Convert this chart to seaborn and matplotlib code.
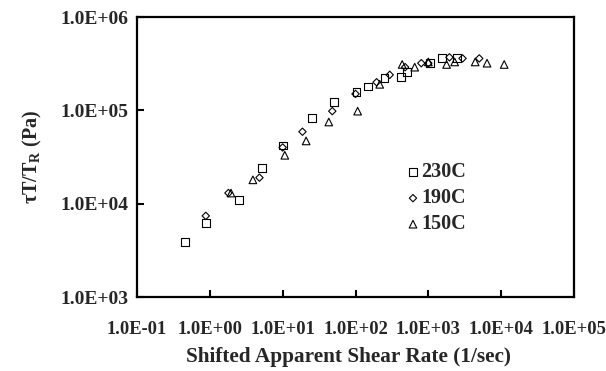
import matplotlib
matplotlib.use("Agg")
import matplotlib.pyplot as plt
import matplotlib.ticker as mticker
import seaborn as sns
import pandas as pd

# ---- data ----
x_230 = [0.455, 0.88, 2.5, 5.2, 10, 25, 51, 103, 150, 250, 420, 515, 1050, 1550, 2500]
y_230 = [3.9e3, 6.2e3, 1.1e4, 2.4e4, 4.2e4, 8.3e4, 1.23e5, 1.58e5, 1.8e5, 2.2e5, 2.3e5, 2.6e5, 3.2e5, 3.6e5, 3.6e5]

x_190 = [0.88, 1.8, 4.8, 10, 18.7, 48, 100, 195, 295, 480, 800, 1000, 1950, 2950, 5000]
y_190 = [7.4e3, 1.3e4, 1.9e4, 4.0e4, 5.9e4, 9.8e4, 1.5e5, 2.0e5, 2.4e5, 2.9e5, 3.2e5, 3.2e5, 3.7e5, 3.6e5, 3.6e5]

x_150 = [1.95, 3.9, 10.7, 21, 43, 107, 215, 437, 650, 1000, 1780, 2300, 4400, 6400, 11000]
y_150 = [1.3e4, 1.8e4, 3.3e4, 4.7e4, 7.5e4, 9.8e4, 1.9e5, 3.1e5, 2.9e5, 3.3e5, 3.1e5, 3.3e5, 3.3e5, 3.2e5, 3.1e5]

series_names = ["230C", "190C", "150C"]

x_ticks = [1e-1, 1e0, 1e1, 1e2, 1e3, 1e4, 1e5]
x_tick_labels = ["1.0E-01", "1.0E+00", "1.0E+01", "1.0E+02", "1.0E+03", "1.0E+04", "1.0E+05"]
y_ticks = [1e3, 1e4, 1e5, 1e6]
y_tick_labels = ["1.0E+03", "1.0E+04", "1.0E+05", "1.0E+06"]

x_label = "Shifted Apparent Shear Rate (1/sec)"
y_label = "τT/T$_{\\mathregular{R}}$ (Pa)"

# ---- style ----
sns.set_style("ticks")
plt.rcParams["font.family"] = ["Liberation Serif", "DejaVu Serif"]
plt.rcParams["font.weight"] = "bold"
plt.rcParams["mathtext.fontset"] = "custom"
plt.rcParams["mathtext.rm"] = "Liberation Serif:bold"
plt.rcParams["mathtext.bf"] = "Liberation Serif:bold"
plt.rcParams["mathtext.it"] = "Liberation Serif:bold:italic"

df = pd.concat([
    pd.DataFrame({"x": x_230, "y": y_230, "T": series_names[0]}),
    pd.DataFrame({"x": x_190, "y": y_190, "T": series_names[1]}),
    pd.DataFrame({"x": x_150, "y": y_150, "T": series_names[2]}),
], ignore_index=True)

markers = {"230C": "s", "190C": "D", "150C": "^"}
sizes = {"230C": 32, "190C": 14, "150C": 30}

fig = plt.figure(figsize=(6.06, 3.71), dpi=100)
ax = fig.add_axes([137 / 606, 1 - 297 / 371, (574 - 137) / 606, (297 - 17) / 371])

for name in series_names:
    sub = df[df["T"] == name]
    sns.scatterplot(data=sub, x="x", y="y", marker=markers[name], s=sizes[name],
                    facecolors="none", edgecolor="black", linewidth=0.8,
                    label=name, ax=ax, zorder=3)

ax.set_xscale("log")
ax.set_yscale("log")
ax.set_xlim(1e-1, 1e5)
ax.set_ylim(1e3, 1e6)

ax.xaxis.set_major_locator(mticker.FixedLocator(x_ticks))
ax.xaxis.set_major_formatter(mticker.FixedFormatter(x_tick_labels))
ax.yaxis.set_major_locator(mticker.FixedLocator(y_ticks))
ax.yaxis.set_major_formatter(mticker.FixedFormatter(y_tick_labels))
ax.xaxis.set_minor_locator(mticker.NullLocator())
ax.yaxis.set_minor_locator(mticker.NullLocator())

ax.tick_params(axis="both", which="major", direction="in", length=5, width=1.5,
               top=False, right=False, color="black")
ax.tick_params(axis="x", labelsize=13.3, pad=17)
ax.tick_params(axis="y", labelsize=14, pad=6)
for lab in ax.get_xticklabels() + ax.get_yticklabels():
    lab.set_fontweight("bold")

for sp in ax.spines.values():
    sp.set_visible(True)
    sp.set_linewidth(1.6)
    sp.set_color("black")

ax.set_xlabel(x_label, fontsize=15.3, fontweight="bold")
ax.xaxis.set_label_coords((348 - 137) / 437, -(357 - 297) / 280)
ax.xaxis.label.set_va("center")
ax.set_ylabel(y_label, fontsize=14.5, fontweight="bold", labelpad=12)

leg = ax.legend(loc="center left", bbox_to_anchor=(0.62, 0.352), frameon=False,
                fontsize=14.5, handlelength=0.5, handletextpad=0.15,
                labelspacing=0.3, borderpad=0, borderaxespad=0)
for t in leg.get_texts():
    t.set_fontweight("bold")

fig.savefig("out.png", dpi=100)
